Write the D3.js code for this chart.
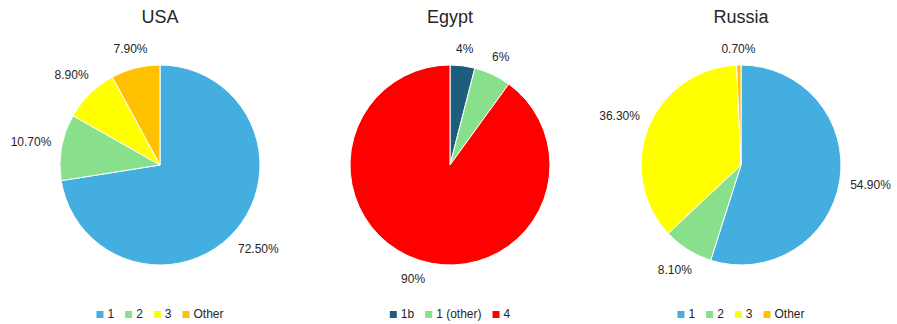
<!DOCTYPE html>
<html>
<head>
<meta charset="utf-8">
<script src="https://cdn.jsdelivr.net/npm/d3@7"></script>
<style>
  html, body { margin: 0; padding: 0; background: #fff; }
  svg { display: block; font-family: "Liberation Sans", Arial, sans-serif; }
</style>
</head>
<body>
<svg id="chart" width="897" height="324"></svg>
<script>
// chart titles
const titles = ["USA", "Egypt", "Russia"];

// categories per pie
const usaCategories = ["1", "2", "3", "Other"];
const egyptCategories = ["1b", "1 (other)", "4"];
const russiaCategories = ["1", "2", "3", "Other"];

// values (percent)
const usaValues = [72.5, 10.7, 8.9, 7.9];
const egyptValues = [4, 6, 90];
const russiaValues = [54.9, 8.1, 36.3, 0.7];

// data labels as shown
const usaLabels = ["72.50%", "10.70%", "8.90%", "7.90%"];
const egyptLabels = ["4%", "6%", "90%"];
const russiaLabels = ["54.90%", "8.10%", "36.30%", "0.70%"];

const colorMap = {
    "1": "#45aee0",
    "2": "#88e08c",
    "3": "#ffff00",
    "Other": "#ffc000",
    "1b": "#1f5d7f",
    "1 (other)": "#88e08c",
    "4": "#ff0000"
};

const pies = [
    { title: titles[0], cats: usaCategories, values: usaValues, labels: usaLabels, cx: 160 },
    { title: titles[1], cats: egyptCategories, values: egyptValues, labels: egyptLabels, cx: 450 },
    { title: titles[2], cats: russiaCategories, values: russiaValues, labels: russiaLabels, cx: 741 }
];

const cy = 165;
const radius = 100;
const labelGap = 10;
const textColor = "#262626";

const svg = d3.select("#chart");

const pieGen = d3.pie().sort(null).value(d => d.value);
const arcGen = d3.arc().innerRadius(0).outerRadius(radius);

pies.forEach(p => {
    const data = p.cats.map((c, i) => ({ cat: c, value: p.values[i], label: p.labels[i] }));

    svg.append("text")
        .attr("x", p.cx)
        .attr("y", 23)
        .attr("text-anchor", "middle")
        .style("font-size", "18px")
        .style("fill", textColor)
        .text(p.title);

    const g = svg.append("g").attr("transform", `translate(${p.cx},${cy})`);

    const arcs = pieGen(data);

    g.selectAll("path")
        .data(arcs)
        .enter()
        .append("path")
        .attr("d", arcGen)
        .attr("fill", d => colorMap[d.data.cat])
        .attr("stroke", "#fff")
        .attr("stroke-width", 1);

    // outside-end labels, box pushed just outside the rim
    g.selectAll("text.lbl")
        .data(arcs)
        .enter()
        .append("text")
        .attr("class", "lbl")
        .attr("text-anchor", "middle")
        .attr("dy", "0.35em")
        .style("font-size", "12px")
        .style("fill", textColor)
        .text(d => d.data.label)
        .each(function(d) {
            const w = this.getComputedTextLength();
            const h = 12;
            const a = (d.startAngle + d.endAngle) / 2;
            const s = Math.sin(a), c = -Math.cos(a);
            const r = radius + labelGap + Math.abs(s) * w / 2 + Math.abs(c) * h / 2;
            d3.select(this).attr("x", s * r).attr("y", c * r);
        });

    // legend
    const legend = svg.append("g");
    let x = 0;
    data.forEach(d => {
        const item = legend.append("g").attr("transform", `translate(${x},0)`);
        item.append("rect")
            .attr("x", 0)
            .attr("y", -7)
            .attr("width", 7)
            .attr("height", 7)
            .attr("fill", colorMap[d.cat]);
        const t = item.append("text")
            .attr("x", 11)
            .attr("y", 0)
            .style("font-size", "12px")
            .style("fill", textColor)
            .text(d.cat);
        x += 11 + t.node().getComputedTextLength() + 11;
    });
    const total = x - 11;
    legend.attr("transform", `translate(${p.cx - total / 2},318)`);
});
</script>
</body>
</html>
